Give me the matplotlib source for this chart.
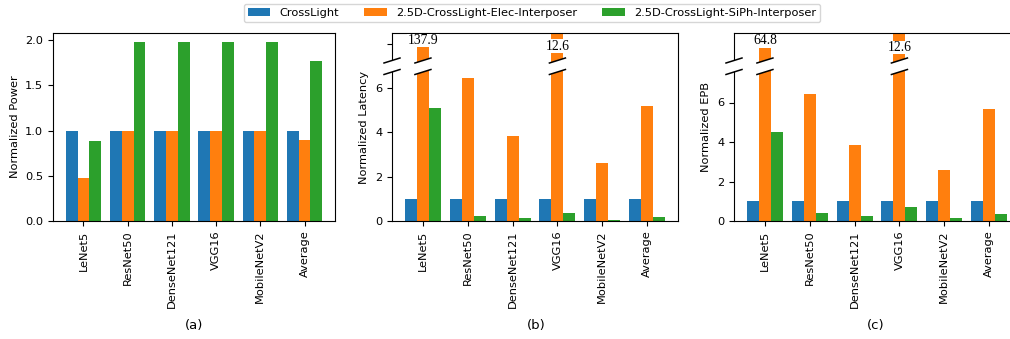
import numpy as np
import matplotlib
matplotlib.use("Agg")
import matplotlib.pyplot as plt
from matplotlib.patches import Polygon
from matplotlib.lines import Line2D

categories = ["LeNet5", "ResNet50", "DenseNet121", "VGG16", "MobileNetV2", "Average"]
series_names = ["CrossLight", "2.5D-CrossLight-Elec-Interposer", "2.5D-CrossLight-SiPh-Interposer"]
colors = ["#1f77b4", "#ff7f0e", "#2ca02c"]

power_crosslight = [1.0, 1.0, 1.0, 1.0, 1.0, 1.0]
power_elec = [0.47, 1.0, 1.0, 1.0, 1.0, 0.90]
power_siph = [0.88, 1.98, 1.98, 1.98, 1.98, 1.77]

latency_crosslight = [1.0, 1.0, 1.0, 1.0, 1.0, 1.0]
latency_elec = [137.9, 6.47, 3.86, 12.6, 2.62, 5.17]
latency_siph = [5.12, 0.23, 0.12, 0.38, 0.06, 0.17]

epb_crosslight = [1.0, 1.0, 1.0, 1.0, 1.0, 1.0]
epb_elec = [64.8, 6.41, 3.87, 12.6, 2.58, 5.67]
epb_siph = [4.50, 0.43, 0.25, 0.71, 0.17, 0.37]

W, H = 1010, 339
fig = plt.figure(figsize=(W / 100, H / 100), dpi=100)

TICK_FS = 8.2
LABEL_FS = 8.2

def px_axes(left, right, top=33, bottom=221):
    return fig.add_axes([left / W, 1 - bottom / H, (right - left) / W, (bottom - top) / H])

axa = px_axes(53, 335)
axb = px_axes(392, 678)
axc = px_axes(734, 1020)

x = np.arange(len(categories))
bw = 0.8 / 3

def draw_bars(ax, vals_list):
    handles = []
    for i, (vals, c) in enumerate(zip(vals_list, colors)):
        h = ax.bar(x + (i - 1) * bw, vals, bw, color=c, label=series_names[i])
        handles.append(h)
    ax.set_xlim(-0.69, 5.69)
    ax.set_xticks(x)
    ax.set_xticklabels(categories, rotation=90, fontsize=TICK_FS)
    ax.tick_params(axis="y", labelsize=TICK_FS)
    return handles

handles = draw_bars(axa, [power_crosslight, power_elec, power_siph])
axa.set_ylim(0, 2.078)
axa.set_yticks([0.0, 0.5, 1.0, 1.5, 2.0])
axa.set_ylabel("Normalized Power", fontsize=LABEL_FS)

draw_bars(axb, [latency_crosslight, latency_elec, latency_siph])
axb.set_ylim(0, 188 / 22.15)
axb.set_yticks([0, 2, 4, 6, 8])
axb.set_yticklabels(["0", "2", "4", "6", ""])
axb.set_ylabel("Normalized Latency", fontsize=LABEL_FS)

draw_bars(axc, [epb_crosslight, epb_elec, epb_siph])
axc.set_ylim(0, 188 / 19.75)
axc.set_yticks([0, 2, 4, 6])
axc.set_ylabel("Normalized EPB", fontsize=LABEL_FS)


def add_break(ax, broken_idx, labels, label_px):
    bb = ax.get_position()
    wpx = bb.width * W
    hpx = bb.height * H
    x0, x1 = ax.get_xlim()
    ys_px = [60.5, 72.0]
    ys = [(221 - y) / hpx for y in ys_px]
    hw = 8.0 / wpx
    rise = 2.5 / hpx
    spots = [(0.0, 2.5 / wpx)]
    for i in broken_idx:
        spots.append(((x[i] - x0) / (x1 - x0), (bw / 2 * wpx / (x1 - x0) + 1.0) / wpx))
    for xc, fhw in spots:
        fr = rise * fhw / hw
        poly = Polygon([(xc - fhw, ys[1] - fr), (xc + fhw, ys[1] + fr),
                        (xc + fhw, ys[0] + fr), (xc - fhw, ys[0] - fr)],
                       closed=True, facecolor="white", edgecolor="none",
                       transform=ax.transAxes, clip_on=False, zorder=4)
        ax.add_patch(poly)
        for yy in ys:
            ax.add_line(Line2D([xc - hw, xc + hw], [yy - rise, yy + rise],
                               color="black", lw=1.1, transform=ax.transAxes,
                               clip_on=False, zorder=5))
    for i, lab, lp in zip(broken_idx, labels, label_px):
        ax.text((x[i] - x0) / (x1 - x0), (221 - lp) / hpx, lab,
                transform=ax.transAxes, ha="center", va="center",
                fontsize=9.8, family="Liberation Serif", zorder=6,
                bbox=dict(facecolor="white", edgecolor="none", pad=0.3))

add_break(axb, [0, 3], ["137.9", "12.6"], [40.5, 46.0])
add_break(axc, [0, 3], ["64.8", "12.6"], [41.0, 47.5])

fig.text(194 / W, 1 - 325 / H, "(a)", ha="center", va="center", fontsize=9.5)
fig.text(536 / W, 1 - 325 / H, "(b)", ha="center", va="center", fontsize=9.5)
fig.text(876 / W, 1 - 325 / H, "(c)", ha="center", va="center", fontsize=9.5)

fig.legend(handles, series_names, loc="center", bbox_to_anchor=(532 / W, 1 - 13 / H),
           ncol=3, fontsize=LABEL_FS, frameon=True, borderpad=0.35,
           columnspacing=2.2, handlelength=2.0)

fig.savefig("out.png", dpi=100)
